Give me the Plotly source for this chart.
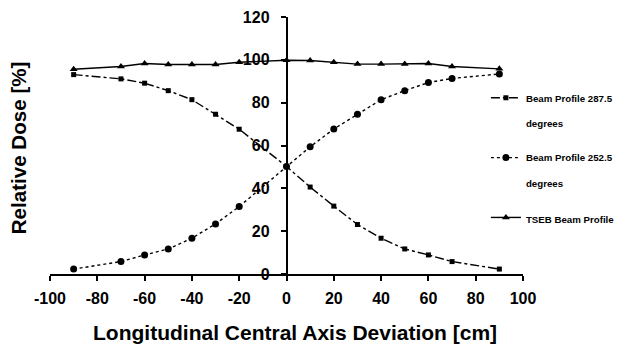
import plotly.graph_objects as go

x_cm = [-90, -70, -60, -50, -40, -30, -20, 0, 10, 20, 30, 40, 50, 60, 70, 90]
beam_287 = [93.1, 91.1, 89.1, 85.6, 81.4, 74.6, 67.6, 50.2, 40.6, 31.7, 23.1, 16.7, 11.7, 8.9, 5.8, 2.3]
beam_252 = [2.3, 5.8, 8.9, 11.7, 16.7, 23.4, 31.5, 50.2, 59.4, 67.7, 74.6, 81.4, 85.6, 89.4, 91.3, 93.4]
tseb = [95.6, 96.9, 98.3, 97.8, 97.8, 97.8, 98.9, 99.8, 99.7, 98.9, 98.0, 98.0, 98.0, 98.3, 96.9, 95.8]

names = ["Beam Profile 287.5<br><br>degrees", "Beam Profile 252.5<br><br>degrees", "TSEB Beam Profile"]
x_ticks = [-100, -80, -60, -40, -20, 0, 20, 40, 60, 80, 100]
x_labels = ["-100", "-80", "-60", "-40", "-20", "0", "20", "40", "60", "80", "100"]
y_ticks = [0, 20, 40, 60, 80, 100, 120]

FONT = "Liberation Sans, Arial, sans-serif"

fig = go.Figure()
fig.add_trace(go.Scatter(x=x_cm, y=beam_287, name=names[0], legendgroup="a", mode="lines+markers",
                         line=dict(color="black", width=1.4, dash="dashdot"),
                         marker=dict(symbol="square", size=5, color="black"), cliponaxis=False))
fig.add_trace(go.Scatter(x=x_cm, y=beam_252, name=names[1], legendgroup="b", mode="lines+markers",
                         line=dict(color="black", width=1.4, dash="dot"),
                         marker=dict(symbol="circle", size=7, color="black"), cliponaxis=False))
fig.add_trace(go.Scatter(x=x_cm, y=tseb, name=names[2], legendgroup="c", mode="lines+markers",
                         line=dict(color="black", width=1.4),
                         marker=dict(symbol="triangle-up", size=7, color="black"), cliponaxis=False))

fig.update_layout(
    width=619, height=344,
    margin=dict(l=50, r=96, t=17, b=70, autoexpand=False),
    paper_bgcolor="white", plot_bgcolor="white",
    font=dict(family=FONT, color="black", size=16, weight="bold"),
    xaxis=dict(range=[-100, 100], tickvals=x_ticks, ticktext=x_labels, showgrid=False, zeroline=False,
               showline=True, linecolor="black", linewidth=1.5, ticks="outside",
               ticklen=5, tickwidth=1.5, tickcolor="black", automargin=False,
               ticklabelstandoff=4,
               tickfont=dict(size=16, family=FONT, weight="bold")),
    yaxis=dict(range=[0, 120], tickvals=y_ticks, showgrid=False, zeroline=False,
               showline=True, linecolor="black", linewidth=1.5, ticks="outside",
               ticklen=5, tickwidth=1.5, tickcolor="black", anchor="free", position=0.5,
               automargin=False, ticklabelstandoff=8,
               tickfont=dict(size=16, family=FONT, weight="bold")),
    legend=dict(x=0.785, y=0.753, xref="container", yref="container",
                xanchor="left", yanchor="top", valign="top",
                font=dict(size=9.7, family=FONT, weight="bold"), tracegroupgap=19,
                bgcolor="rgba(0,0,0,0)", itemwidth=30),
    showlegend=True,
    annotations=[
        dict(text="Longitudinal Central Axis Deviation [cm]", xref="paper", yref="paper",
             x=0.518, y=-0.228, xanchor="center", yanchor="middle", showarrow=False,
             font=dict(size=21, family=FONT, weight="bold")),
        dict(text="Relative Dose [%]", xref="paper", yref="paper", x=-0.066, y=0.492,
             xanchor="center", yanchor="middle", textangle=-90, showarrow=False,
             font=dict(size=20.6, family=FONT, weight="bold")),
    ],
)

fig.write_html("out.html", config={"displayModeBar": False},
               post_script="document.body.style.margin='0';")
